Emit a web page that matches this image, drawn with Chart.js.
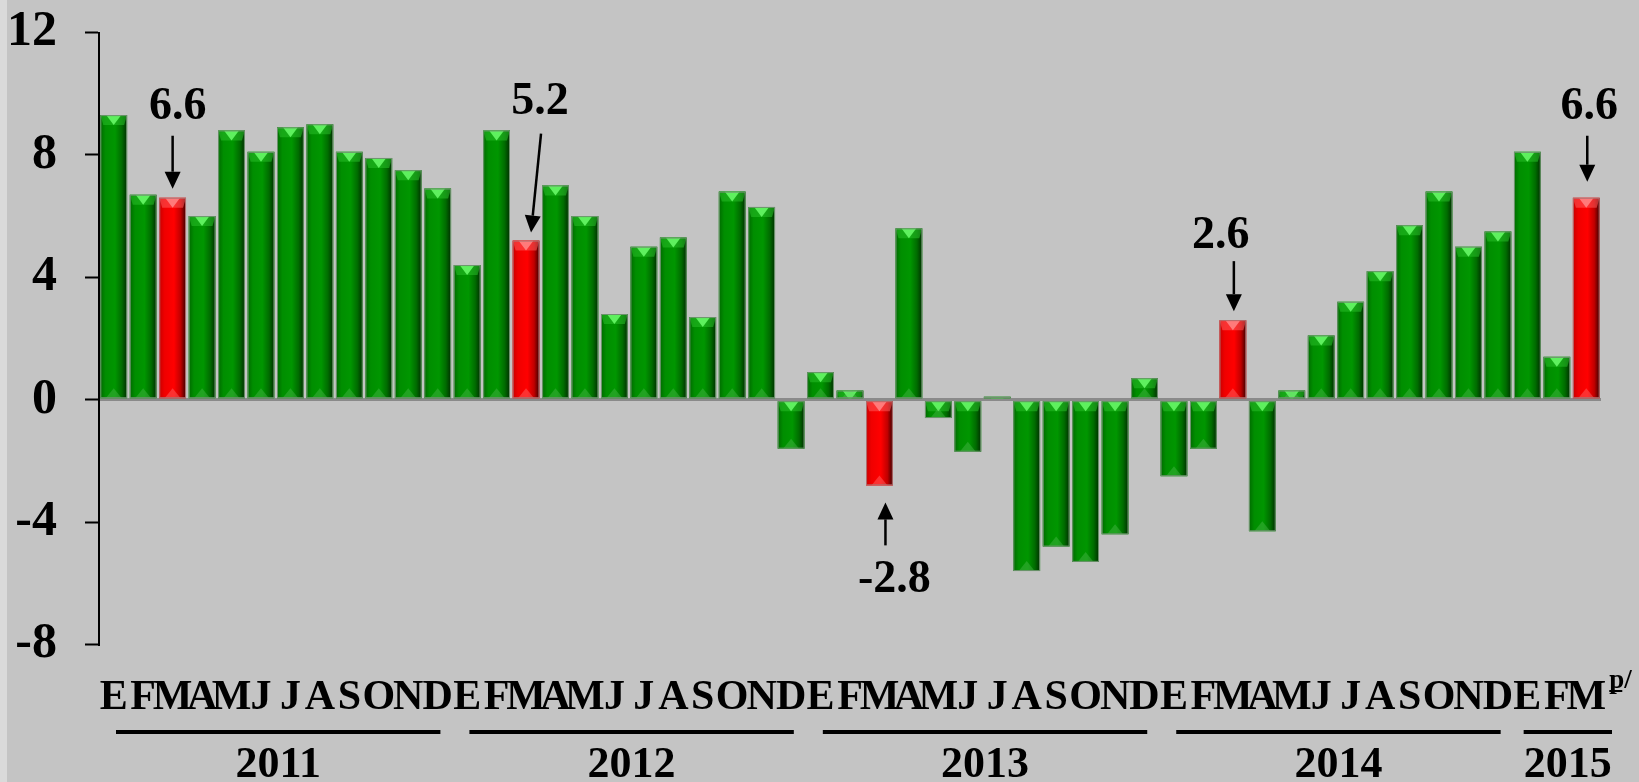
<!DOCTYPE html>
<html>
<head>
<meta charset="utf-8">
<script src="https://cdn.jsdelivr.net/npm/chart.js@4.4.1/dist/chart.umd.min.js"></script>
<style>
    html, body { margin: 0; padding: 0; background: #c4c4c4; }
    body { width: 1639px; height: 782px; overflow: hidden; position: relative; }
    #strip { position: absolute; left: 0; top: 0; width: 7px; height: 782px; background: #dadada; }
    canvas { position: absolute; left: 0; top: 0; }
</style>
</head>
<body>
<div id="strip"></div>
<canvas id="myChart" width="1639" height="782"></canvas>
<script>
const months = ['E', 'F', 'M', 'A', 'M', 'J', 'J', 'A', 'S', 'O', 'N', 'D'];
const years = ['2011', '2012', '2013', '2014', '2015'];
const monthsPerYear = [12, 12, 12, 12, 3];
const values2011 = [9.3, 6.7, 6.6, 6.0, 8.8, 8.1, 8.9, 9.0, 8.1, 7.9, 7.5, 6.9];
const values2012 = [4.4, 8.8, 5.2, 7.0, 6.0, 2.8, 5.0, 5.3, 2.7, 6.8, 6.3, -1.6];
const values2013 = [0.9, 0.3, -2.8, 5.6, -0.6, -1.7, 0.1, -5.6, -4.8, -5.3, -4.4, 0.7];
const values2014 = [-2.5, -1.6, 2.6, -4.3, 0.3, 2.1, 3.2, 4.2, 5.7, 6.8, 5.0, 5.5];
const values2015 = [8.1, 1.4, 6.6];
const highlightMonth = 2; // marzo de cada año en rojo
const yMin = -8, yMax = 12, yStep = 4;
const lastSuffix = 'p/';

const SERIF = '"Liberation Serif", "Times New Roman", serif';

// build labels / values / colours from the arrays above
const labels = [];
const values = [].concat(values2011, values2012, values2013, values2014, values2015);
const isRed = [];
const yearStart = [];
let k = 0;
monthsPerYear.forEach((n) => {
    yearStart.push(k);
    for (let m = 0; m < n; m++) {
        labels.push(months[m]);
        isRed.push(m === highlightMonth);
        k++;
    }
});

// each highlighted bar gets an arrow + value; offsets are pixels relative to the bar end
const annotationStyle = [
    { textDx: 5,   textDy: -79, tail: [0, -62],  tip: [0, -9] },
    { textDx: 14,  textDy: -127, tail: [15, -107], tip: [5, -8] },
    { textDx: 15,  textDy: 107, tail: [6, 60],   tip: [6, 17] },
    { textDx: -12, textDy: -72, tail: [1, -59],  tip: [1, -9] },
    { textDx: 3,   textDy: -79, tail: [1, -62],  tip: [1, -16] }
];

function shade(ctx, left, right, red) {
    const g = ctx.createLinearGradient(left, 0, right, 0);
    if (red) {
        g.addColorStop(0, '#c80000');
        g.addColorStop(0.2, '#f00000');
        g.addColorStop(0.55, '#ff0000');
        g.addColorStop(0.8, '#c00000');
        g.addColorStop(1, '#3a0000');
    } else {
        g.addColorStop(0, '#006a00');
        g.addColorStop(0.2, '#008e00');
        g.addColorStop(0.55, '#009600');
        g.addColorStop(0.8, '#006c00');
        g.addColorStop(1, '#002e00');
    }
    return g;
}

const bevelBars = {
    id: 'bevelBars',
    afterDatasetsDraw(chart) {
        const ctx = chart.ctx;
        const meta = chart.getDatasetMeta(0);
        meta.data.forEach((el, i) => {
            const p = el.getProps(['x', 'y', 'base', 'width'], true);
            const left = p.x - p.width / 2, right = p.x + p.width / 2;
            const top = Math.min(p.y, p.base), bottom = Math.max(p.y, p.base);
            const h = bottom - top;
            if (h <= 0) return;
            const red = isRed[i];
            ctx.save();
            ctx.beginPath();
            ctx.rect(left, top, p.width, h);
            ctx.clip();
            ctx.fillStyle = shade(ctx, left, right, red);
            ctx.fillRect(left, top, p.width, h);
            const b = 10;
            // top bevel band
            ctx.fillStyle = red ? 'rgba(255,90,90,0.55)' : 'rgba(40,190,40,0.55)';
            ctx.beginPath();
            ctx.moveTo(left, top);
            ctx.lineTo(right, top);
            ctx.lineTo(right - 3, top + b);
            ctx.lineTo(left + 3, top + b);
            ctx.closePath();
            ctx.fill();
            // highlight triangle
            ctx.fillStyle = red ? '#ff7a7a' : '#5ef05e';
            ctx.beginPath();
            ctx.moveTo(left + p.width * 0.22, top);
            ctx.lineTo(right - p.width * 0.22, top);
            ctx.lineTo(p.x, top + b);
            ctx.closePath();
            ctx.fill();
            // faint bottom bevel
            ctx.fillStyle = red ? 'rgba(255,140,140,0.35)' : 'rgba(110,200,110,0.3)';
            ctx.beginPath();
            ctx.moveTo(left + p.width * 0.2, bottom);
            ctx.lineTo(right - p.width * 0.2, bottom);
            ctx.lineTo(p.x, bottom - b);
            ctx.closePath();
            ctx.fill();
            ctx.restore();
            ctx.strokeStyle = red ? '#b07070' : '#6e936e';
            ctx.lineWidth = 1;
            ctx.strokeRect(left + 0.5, top + 0.5, p.width - 1, h - 1);
        });
    }
};

const extras = {
    id: 'extras',
    afterDraw(chart) {
        const ctx = chart.ctx;
        const xs = chart.scales.x;
        const meta = chart.getDatasetMeta(0);
        const step = xs.getPixelForValue(1) - xs.getPixelForValue(0);
        ctx.save();
        ctx.fillStyle = '#000';
        ctx.strokeStyle = '#000';

        // year underlines and labels
        years.forEach((yr, j) => {
            const first = yearStart[j], last = first + monthsPerYear[j] - 1;
            let x0 = xs.getPixelForValue(first) - step / 2 + 17;
            let x1 = xs.getPixelForValue(last) + step / 2 - 12;
            if (j === years.length - 1) { x0 -= 6; x1 += 23; }
            ctx.fillRect(x0, 730, x1 - x0, 4);
            ctx.font = 'bold 44px ' + SERIF;
            ctx.textAlign = 'center';
            ctx.textBaseline = 'alphabetic';
            ctx.fillText(yr, (x0 + x1) / 2, 777);
        });

        // superscript on the last month
        const lx = xs.getPixelForValue(labels.length - 1);
        ctx.font = 'bold 27px ' + SERIF;
        ctx.textAlign = 'left';
        ctx.fillText(lastSuffix, lx + 23, 688);
        ctx.fillRect(lx + 23, 690, 13, 2);

        // annotations on the red bars
        let a = 0;
        meta.data.forEach((el, i) => {
            if (!isRed[i]) return;
            const s = annotationStyle[a++];
            if (!s) return;
            const p = el.getProps(['x', 'y'], true);
            ctx.font = 'bold 46px ' + SERIF;
            ctx.textAlign = 'center';
            ctx.textBaseline = 'alphabetic';
            ctx.fillText(values[i].toFixed(1), p.x + s.textDx, p.y + s.textDy);
            const tx = p.x + s.tail[0], ty = p.y + s.tail[1];
            const hx = p.x + s.tip[0], hy = p.y + s.tip[1];
            const ang = Math.atan2(hy - ty, hx - tx);
            const hl = 17, hw = 8;
            const bx = hx - hl * Math.cos(ang), by = hy - hl * Math.sin(ang);
            ctx.lineWidth = 2.5;
            ctx.beginPath();
            ctx.moveTo(tx, ty);
            ctx.lineTo(bx, by);
            ctx.stroke();
            ctx.beginPath();
            ctx.moveTo(hx, hy);
            ctx.lineTo(bx + hw * Math.sin(ang), by - hw * Math.cos(ang));
            ctx.lineTo(bx - hw * Math.sin(ang), by + hw * Math.cos(ang));
            ctx.closePath();
            ctx.fill();
        });
        ctx.restore();
    }
};

const ctx = document.getElementById('myChart').getContext('2d');
const myChart = new Chart(ctx, {
    type: 'bar',
    data: {
        labels: labels,
        datasets: [{
            data: values,
            backgroundColor: isRed.map(r => r ? '#ff0000' : '#009600'),
            borderWidth: 0,
            barPercentage: 0.91,
            categoryPercentage: 1.0
        }]
    },
    options: {
        responsive: false,
        animation: false,
        layout: { padding: { top: 32.5, right: 38, left: 0, bottom: 0 } },
        plugins: {
            legend: { display: false },
            tooltip: { enabled: false }
        },
        scales: {
            x: {
                grid: { display: false, drawTicks: false },
                border: { display: false },
                ticks: {
                    autoSkip: false,
                    maxRotation: 0,
                    minRotation: 0,
                    padding: 28,
                    color: '#000',
                    font: { family: SERIF, size: 42, weight: 'bold' }
                },
                afterFit(scale) {
                    scale.height = 137.5;
                    scale.paddingLeft = 0;
                    scale.paddingRight = 0;
                }
            },
            y: {
                min: yMin,
                max: yMax,
                ticks: {
                    stepSize: yStep,
                    padding: 28,
                    color: '#000',
                    font: { family: SERIF, size: 50, weight: 'bold' }
                },
                grid: {
                    drawOnChartArea: true,
                    color: (c) => c.tick && c.tick.value === 0 ? '#8a8a8a' : 'rgba(0,0,0,0)',
                    lineWidth: 3,
                    tickColor: '#000',
                    tickLength: 14,
                    tickWidth: 2
                },
                border: { display: true, color: '#000', width: 2 },
                afterFit(scale) {
                    scale.width = 99;
                    scale.paddingTop = 0;
                    scale.paddingBottom = 0;
                }
            }
        }
    },
    plugins: [bevelBars, extras]
});
</script>
</body>
</html>
